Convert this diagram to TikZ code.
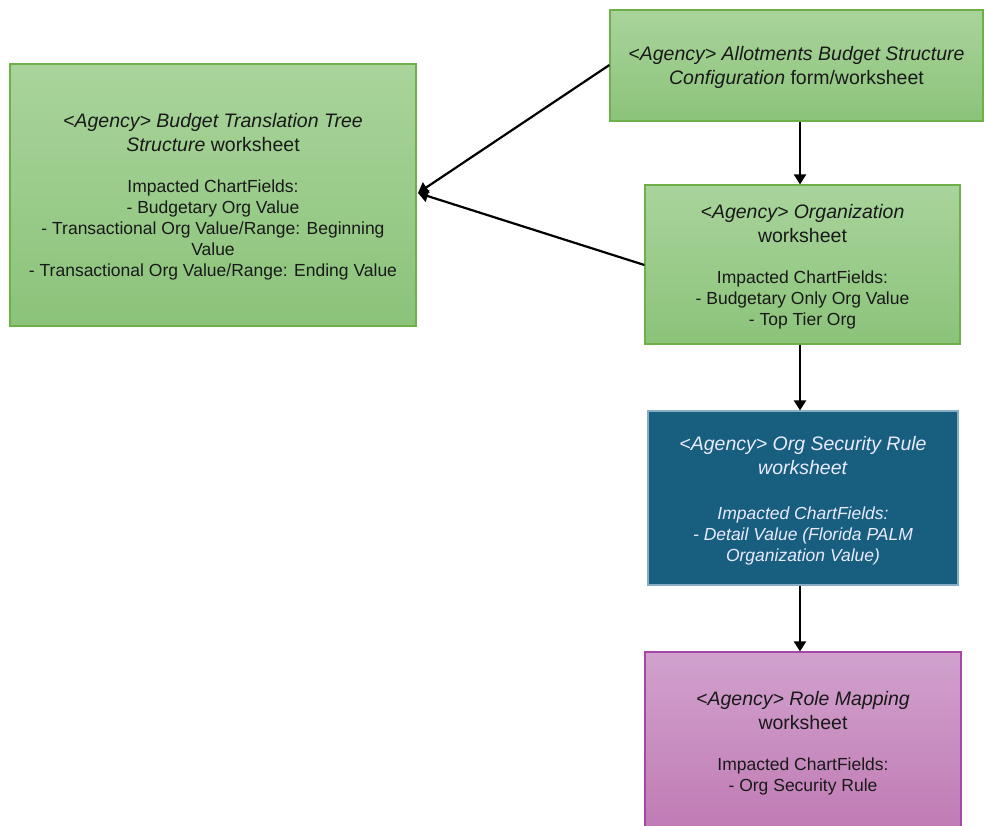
\documentclass[tikz,border=0pt]{standalone}
\usepackage{fontspec}
\setmainfont{Liberation Sans}
\usetikzlibrary{arrows.meta}
\definecolor{gtop}{HTML}{A9D49B}
\definecolor{gbot}{HTML}{8BC37A}
\definecolor{gline}{HTML}{6DB048}
\definecolor{bfill}{HTML}{175E7F}
\definecolor{bline}{HTML}{86AEC4}
\definecolor{ptop}{HTML}{D1A1CD}
\definecolor{pbot}{HTML}{C07BB4}
\definecolor{pline}{HTML}{A646A6}
\newcommand{\ttl}{\fontsize{19.5}{21}\selectfont}
\newcommand{\topstrut}[1]{\rule{0pt}{#1}}
\begin{document}
\begin{tikzpicture}[x=1pt,y=-1pt,
  box/.style={rectangle, inner sep=0pt, align=center, line width=1.2pt, text=black!90,
    font=\fontsize{17.5}{21}\selectfont},
  green/.style={box, draw=gline, top color=gtop, bottom color=gbot},
  blue/.style={box, draw=bline, fill=bfill, text=white!92!blue},
  pink/.style={box, draw=pline, top color=ptop, bottom color=pbot},
  conn/.style={line width=2.2pt, -{Triangle[length=10pt,width=12pt]}}]
\useasboundingbox (0,0) rectangle (984,826);
\clip (0,0) rectangle (984,826);
\node[green, minimum width=373pt, minimum height=111pt] (A) at (796.5,65.5)
  {\ttl\topstrut{18.6pt}\textit{<Agency> Allotments Budget Structure}\\[3pt] \ttl\textit{Configuration} form/worksheet};
\node[green, minimum width=406pt, minimum height=262pt] (B) at (213,195)
  {\ttl\topstrut{18.6pt}\textit{<Agency> Budget Translation Tree}\\[3pt] \ttl\textit{Structure} worksheet\\[20pt]
   Impacted ChartFields:\\ - Budgetary Org Value\\ - Transactional Org Value/Range: Beginning\\ Value\\ - Transactional Org Value/Range: Ending Value};
\node[green, minimum width=315pt, minimum height=159pt] (C) at (802.5,264.5)
  {\ttl\topstrut{19.6pt}\textit{<Agency> Organization}\\[3pt] \ttl worksheet\\[20pt]
   Impacted ChartFields:\\ - Budgetary Only Org Value\\ - Top Tier Org};
\node[blue, minimum width=310pt, minimum height=174pt] (D) at (803,498)
  {\ttl\topstrut{20.6pt}\textit{<Agency> Org Security Rule}\\[3pt] \ttl\textit{worksheet}\\[24pt]
   \textit{Impacted ChartFields:}\\ \textit{- Detail Value (Florida PALM}\\ \textit{Organization Value)}};
\node[pink, minimum width=316pt, minimum height=180pt] (E) at (803,742)
  {\ttl\topstrut{16pt}\textit{<Agency> Role Mapping}\\[3pt] \ttl worksheet\\[20pt]
   Impacted ChartFields:\\ - Org Security Rule};
\coordinate (Bin) at (418,193);
\draw[conn] (A.south -| 800,0) -- (C.north -| 800,0);
\draw[conn] (C.south -| 800,0) -- (D.north -| 800,0);
\draw[conn] (D.south -| 800,0) -- (E.north -| 800,0);
\draw[conn] (A.west |- 0,65) -- (Bin);
\draw[conn] (C.west |- 0,265) -- (Bin);
\end{tikzpicture}
\end{document}
